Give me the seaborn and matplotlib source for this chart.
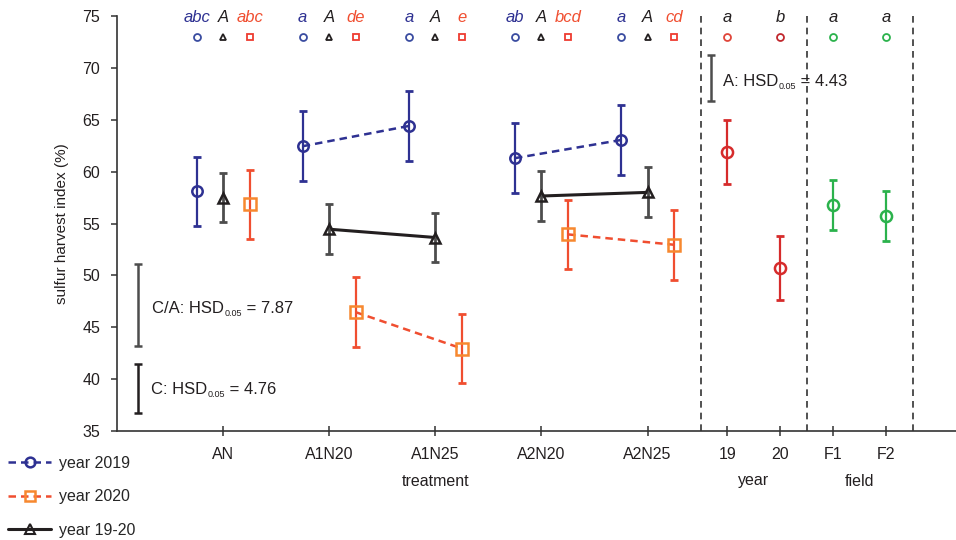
import numpy as np
import pandas as pd
import seaborn as sb
import matplotlib.pyplot as plt
from matplotlib.lines import Line2D
from matplotlib.transforms import blended_transform_factory

# данные
treatments = ['AN', 'A1N20', 'A1N25', 'A2N20', 'A2N25']
mean_2019 = [58.1, 62.45, 64.4, 61.3, 63.05]
mean_2020 = [56.85, 46.45, 42.95, 53.95, 52.95]
mean_1920 = [57.5, 54.45, 53.65, 57.65, 58.0]
err_2019 = [3.35, 3.35, 3.4, 3.35, 3.35]
err_2020 = [3.35, 3.35, 3.35, 3.35, 3.35]
err_1920 = [2.4, 2.4, 2.4, 2.4, 2.4]
pair_id = ['', 'A1', 'A1', 'A2', 'A2']

years = ['19', '20']
mean_year = [61.87, 50.7]
err_year = [3.1, 3.1]

fields = ['F1', 'F2']
mean_field = [56.77, 55.75]
err_field = [2.4, 2.4]

letters_2019 = ['abc', 'a', 'a', 'ab', 'a']
letters_1920 = ['A', 'A', 'A', 'A', 'A']
letters_2020 = ['abc', 'de', 'e', 'bcd', 'cd']
letters_year = ['a', 'b']
letters_field = ['a', 'a']

hsd_names = ['C/A', 'C', 'A']
hsd_values = [7.87, 4.76, 4.43]
hsd_bottom = [43.2, 36.74, 66.82]

BLUE = '#2e3192'
RED = '#f04e30'
ORANGE = '#f7882f'
BLACK = '#231f20'
GREY = '#4d4d4d'
YEAR_RED = '#d62b2b'
GREEN = '#2bb24c'

sb.set_style('ticks')
plt.rcParams['font.family'] = ['Liberation Sans', 'DejaVu Sans']

fig = plt.figure(figsize=(9.56, 5.4), dpi=100)
ax = fig.add_axes([117 / 956, 109 / 540, 1 - 117 / 956, 415 / 540])

x_tr = np.arange(1, 6)
x_year = np.array([5.75, 6.25])
x_field = np.array([6.75, 7.25])

series = [
    ('year 2019', mean_2019, err_2019, -0.25, BLUE, BLUE, BLUE, 'o', (0, (3, 2)), 1.8, 7.5),
    ('year 2020', mean_2020, err_2020, 0.25, RED, RED, ORANGE, 's', (0, (3, 2)), 1.8, 8),
    ('year 19-20', mean_1920, err_1920, 0.0, BLACK, GREY, BLACK, '^', '-', 2.2, 7),
]

# соединительные линии между A*N20 и A*N25
for name, m, e, off, lc, ec, mc, mk, ls, lw, ms in series:
    df = pd.DataFrame({'x': x_tr + off, 'y': m, 'pair': pair_id})
    df = df[df['pair'] != '']
    sb.lineplot(data=df, x='x', y='y', units='pair', estimator=None, ax=ax,
                color=lc, linewidth=lw, linestyle=ls, zorder=2)

for name, m, e, off, lc, ec, mc, mk, ls, lw, ms in series:
    ax.errorbar(x_tr + off, m, yerr=e, fmt='none', ecolor=ec,
                elinewidth=2.0 if mk == '^' else 1.6, capsize=3, capthick=2.0, zorder=3)
    ax.plot(x_tr + off, m, linestyle='none', marker=mk, ms=ms, mfc='none',
            mec=mc, mew=1.8, zorder=4)

for xs, m, e, c in [(x_year, mean_year, err_year, YEAR_RED), (x_field, mean_field, err_field, GREEN)]:
    ax.errorbar(xs, m, yerr=e, fmt='none', ecolor=c, elinewidth=1.6, capsize=3, capthick=2.0, zorder=3)
    ax.plot(xs, m, linestyle='none', marker='o', ms=8, mfc='none', mec=c, mew=1.8, zorder=4)

# вертикальные разделители
for xv in [5.5, 6.5, 7.5]:
    ax.axvline(xv, color='#333333', linestyle=(0, (4, 3)), linewidth=1.2, zorder=1)

# HSD
hsd_x = [0.2, 0.2, 5.6]
hsd_col = [GREY, BLACK, GREY]
hsd_text_xy = [(0.33, 46.8), (0.32, 39.0), (5.71, 68.65)]
for n, v, b, xv, c, (tx, ty) in zip(hsd_names, hsd_values, hsd_bottom, hsd_x, hsd_col, hsd_text_xy):
    ax.errorbar([xv], [b + v / 2], yerr=[v / 2], fmt='none', ecolor=c,
                elinewidth=1.8, capsize=3, capthick=1.8)
    t1 = ax.text(tx, ty, n + ': HSD', fontsize=12, color=BLACK, va='center', ha='left')
    t2 = ax.annotate('0.05', xy=(1, 0), xycoords=t1, xytext=(0.3, -1.5),
                     textcoords='offset points', fontsize=6.5, color=BLACK,
                     va='bottom', ha='left')
    ax.annotate(' = ' + f'{v:.2f}', xy=(1, 0.5), xycoords=(t2, t1), fontsize=12,
                color=BLACK, va='center', ha='left')

# буквы и значки сверху
top_groups = [
    (x_tr - 0.25, letters_2019, BLUE, ['#3a4ca0'] * 5, 'o'),
    (x_tr, letters_1920, BLACK, [BLACK] * 5, '^'),
    (x_tr + 0.25, letters_2020, RED, ['#ee3b30'] * 5, 's'),
    (x_year, letters_year, BLACK, ['#e0453a', '#c1272d'], 'o'),
    (x_field, letters_field, BLACK, [GREEN, GREEN], 'o'),
]
for xs, labs, tc, mcs, mk in top_groups:
    for xv, lab, mc in zip(xs, labs, mcs):
        ax.text(xv, 74.85, lab, color=tc, fontsize=12, style='italic',
                ha='center', va='center', clip_on=False)
        ax.plot([xv], [73.0], marker=mk, ms=5, mfc='none', mec=mc, mew=1.3,
                clip_on=False, linestyle='none')

ax.set_xlim(0, 7.906)
ax.set_ylim(35, 75)
ax.set_yticks(np.arange(35, 76, 5))
ax.set_xticks(list(x_tr) + list(x_year) + list(x_field))
ax.set_xticklabels(treatments + years + fields)
ax.set_xlabel('')
ax.set_ylabel('sulfur harvest index (%)', fontsize=11, color=BLACK, labelpad=10)
ax.tick_params(axis='x', direction='inout', length=7, width=1.1, labelsize=11.5,
               colors='#333333', labelcolor=BLACK, pad=8)
ax.tick_params(axis='y', direction='out', length=4, width=1.1, labelsize=11.5,
               colors='#333333', labelcolor=BLACK, pad=8)
for s in ['top', 'right']:
    ax.spines[s].set_visible(False)
for s in ['left', 'bottom']:
    ax.spines[s].set_color('#333333')
    ax.spines[s].set_linewidth(1.2)
ax.grid(False)

tr = blended_transform_factory(ax.transData, fig.transFigure)
for xv, lab in [(3.0, 'treatment'), (6.0, 'year'), (7.0, 'field')]:
    ax.text(xv, 1 - 481 / 540, lab, transform=tr, ha='center', va='center',
            fontsize=11.5, color=BLACK)

handles = [
    Line2D([], [], color=BLUE, linestyle=(0, (3, 2)), lw=1.8, marker='o', ms=7,
           mfc='none', mec=BLUE, mew=1.8),
    Line2D([], [], color=RED, linestyle=(0, (3, 2)), lw=1.8, marker='s', ms=7,
           mfc='none', mec=ORANGE, mew=1.8),
    Line2D([], [], color=BLACK, linestyle='-', lw=2.2, marker='^', ms=7,
           mfc='none', mec=BLACK, mew=1.5),
]
fig.legend(handles, ['year 2019', 'year 2020', 'year 19-20'], loc='upper left',
           bbox_to_anchor=(8 / 956, 1 - 456 / 540), frameon=False, fontsize=11.5,
           handlelength=2.7, handletextpad=0.5, labelspacing=1.15, borderpad=0,
           borderaxespad=0)

fig.savefig('out.png', dpi=100)
